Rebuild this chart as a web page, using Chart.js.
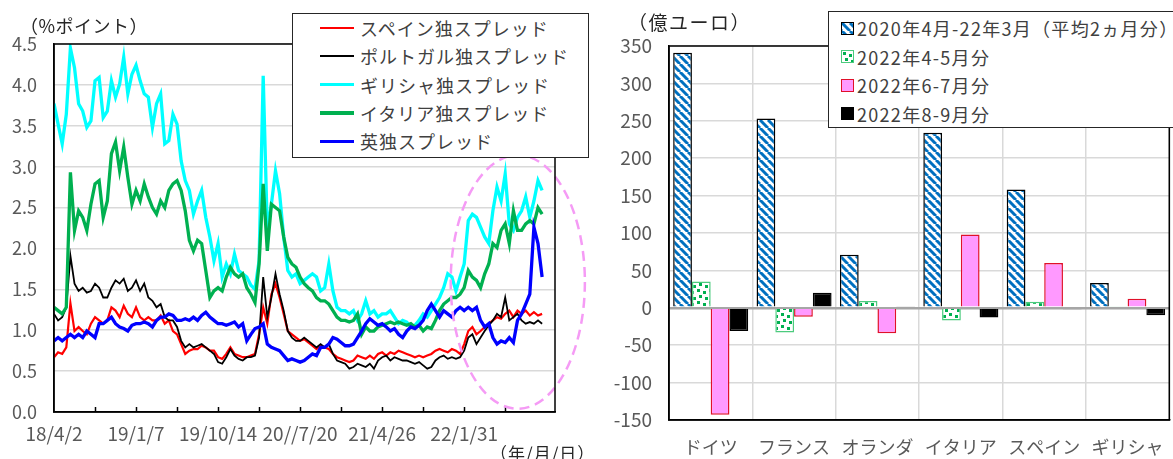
<!DOCTYPE html>
<html lang="ja">
<head>
<meta charset="utf-8">
<script src="https://cdn.jsdelivr.net/npm/chart.js@4.4.0/dist/chart.umd.min.js"></script>
<style>
  html, body { margin: 0; padding: 0; background: #fff; overflow: hidden; }
  body { width: 1173px; height: 459px; position: relative; font-family: "Noto Sans CJK JP", sans-serif; }
  .abs { position: absolute; }
  #leftWrap { left: 0; top: 0; width: 600px; height: 459px; }
  #rightWrap { left: 600px; top: 0; width: 580px; height: 459px; }
  .note { color: #262626; white-space: nowrap; line-height: 20px; }
  .legend { background: #fff; box-sizing: border-box; }
  .legend .row { position: absolute; display: flex; align-items: center; white-space: nowrap;
                 font-size: 18px; color: #404040; height: 24px; }
</style>
</head>
<body>
<div id="leftWrap" class="abs"><canvas id="spreadChart" width="600" height="459"></canvas></div>
<div id="rightWrap" class="abs"><canvas id="flowChart" width="580" height="459"></canvas></div>

<div class="abs note" style="left:20px; top:15px; font-size:18px; letter-spacing:0.5px;">（%ポイント）</div>
<div class="abs note" style="left:490px; top:443px; font-size:17px; letter-spacing:1px;">（年/月/日）</div>
<div class="abs note" style="left:628px; top:12px; font-size:19px; letter-spacing:1.5px;">（億ユーロ）</div>

<div id="spreadLegend" class="abs legend" style="left:292px; top:13px; width:297px; height:145px; border:1.5px solid #262626;"></div>
<div id="flowLegend" class="abs legend" style="left:828px; top:11px; width:360px; height:117px; border:1.5px solid #262626;"></div>

<script>
// ---- left chart: spreads vs Germany, one reading every 2 weeks from 2018/4/2 ----
const dayStep = 14;
const axisEndDay = 1710;
const tickStepDays = 140;
const xTickLabels = ['18/4/2', '', '19/1/7', '', '19/10/14', '', '20//7/20', '', '21/4/26', '', '22/1/31', '', ''];

const spainSpread = [
  0.67,0.73,0.71,0.79,1.33,0.99,1.04,0.99,0.95,1.08,
  1.16,1.12,1.08,1.12,1.28,1.24,1.16,1.30,1.20,1.16,
  1.28,1.16,1.12,1.16,1.12,1.12,1.18,1.08,1.12,0.99,
  0.95,0.83,0.71,0.75,0.77,0.77,0.81,0.79,0.75,0.75,
  0.67,0.65,0.71,0.79,0.71,0.69,0.67,0.67,0.69,0.71,
  0.95,1.28,1.08,1.44,1.57,1.40,1.20,0.99,0.95,0.91,
  0.87,0.89,0.85,0.81,0.77,0.81,0.79,0.77,0.71,0.67,
  0.65,0.63,0.61,0.63,0.69,0.67,0.65,0.69,0.65,0.71,
  0.73,0.69,0.73,0.71,0.75,0.73,0.71,0.69,0.67,0.69,
  0.67,0.69,0.71,0.75,0.77,0.75,0.73,0.77,0.75,0.71,
  0.83,0.99,1.04,0.95,0.99,1.04,1.08,1.12,1.16,1.14,
  1.20,1.24,1.16,1.24,1.20,1.24,1.18,1.22,1.18,1.20
];
const portugalSpread = [
  1.20,1.12,1.16,1.28,1.91,1.57,1.48,1.52,1.46,1.48,
  1.57,1.52,1.40,1.40,1.52,1.61,1.57,1.63,1.48,1.52,
  1.61,1.48,1.57,1.40,1.36,1.28,1.32,1.16,1.12,1.12,
  1.04,0.87,0.79,0.83,0.79,0.81,0.83,0.79,0.75,0.71,
  0.61,0.59,0.67,0.77,0.69,0.65,0.63,0.67,0.67,0.69,
  0.91,1.65,1.16,1.40,1.69,1.44,1.24,0.99,0.91,0.87,
  0.87,0.91,0.87,0.83,0.79,0.83,0.79,0.83,0.71,0.63,
  0.61,0.59,0.53,0.55,0.59,0.57,0.55,0.59,0.53,0.63,
  0.67,0.69,0.63,0.67,0.65,0.63,0.63,0.61,0.59,0.61,
  0.57,0.53,0.55,0.63,0.67,0.69,0.65,0.67,0.65,0.67,
  0.75,0.91,0.95,0.83,0.91,0.99,1.06,1.12,1.20,1.16,
  1.40,1.12,1.16,1.20,1.12,1.08,1.10,1.08,1.12,1.08
];
const greeceSpread = [
  3.77,3.52,3.28,3.64,4.45,4.21,3.77,3.68,3.48,3.56,
  4.05,4.09,3.60,3.68,4.05,3.85,4.01,4.34,3.89,4.13,
  4.24,4.05,3.89,3.85,3.48,3.77,3.89,3.28,3.32,3.64,
  3.52,3.07,2.83,2.71,2.42,2.58,2.71,2.38,2.14,1.85,
  2.06,1.65,1.81,1.69,1.93,1.73,1.69,1.65,1.55,1.50,
  1.85,4.11,2.22,2.54,2.95,2.67,2.14,1.73,1.65,1.69,
  1.57,1.61,1.65,1.69,1.65,1.48,1.52,1.81,1.48,1.28,
  1.24,1.24,1.20,1.24,1.12,1.20,1.36,1.20,1.24,1.16,
  1.20,1.20,1.24,1.16,1.08,1.12,1.10,1.04,1.06,1.12,
  1.20,1.16,1.24,1.32,1.40,1.52,1.69,1.65,1.48,1.65,
  1.81,2.34,2.42,2.38,2.26,2.14,2.06,2.46,2.75,2.58,
  2.91,2.30,2.22,2.38,2.46,2.63,2.38,2.58,2.83,2.71
];
const italySpread = [
  1.28,1.24,1.20,1.28,2.93,2.22,2.46,2.38,2.22,2.54,
  2.79,2.83,2.38,2.58,3.16,3.30,2.95,3.24,2.87,2.54,
  2.71,2.58,2.79,2.63,2.50,2.42,2.58,2.50,2.71,2.79,
  2.83,2.71,2.46,2.10,1.97,2.10,2.06,1.73,1.40,1.48,
  1.52,1.48,1.65,1.77,1.69,1.65,1.69,1.52,1.44,1.34,
  1.81,2.79,1.97,2.54,2.50,2.46,2.14,1.89,1.81,1.77,
  1.65,1.57,1.52,1.48,1.40,1.36,1.36,1.32,1.24,1.16,
  1.12,1.12,1.10,1.12,1.20,0.95,1.04,0.99,0.99,1.04,
  1.06,1.08,1.10,1.08,1.10,1.08,1.06,1.08,1.04,1.06,
  0.99,1.04,1.02,1.12,1.24,1.32,1.36,1.40,1.40,1.44,
  1.52,1.73,1.65,1.61,1.52,1.69,1.81,2.06,2.01,2.22,
  2.30,2.06,2.46,2.22,2.22,2.30,2.34,2.30,2.50,2.42
];
const ukSpread = [
  0.87,0.91,0.87,0.91,0.95,0.91,0.95,0.91,0.99,0.95,
  0.91,1.08,1.08,1.12,1.16,1.08,1.04,1.02,0.99,1.06,
  1.08,1.08,1.10,1.08,1.04,1.12,1.16,1.16,1.20,1.18,
  1.12,1.12,1.14,1.12,1.16,1.12,1.18,1.22,1.16,1.12,
  1.08,1.08,1.06,1.08,1.10,1.04,1.08,0.87,0.95,1.02,
  1.04,1.08,0.83,0.79,0.77,0.75,0.69,0.63,0.65,0.63,
  0.61,0.63,0.67,0.71,0.69,0.79,0.79,0.83,0.91,0.89,
  0.85,0.81,0.81,0.83,0.91,0.99,1.08,1.14,1.10,1.06,
  1.08,1.04,0.99,1.02,0.95,0.91,0.99,1.04,1.02,1.06,
  1.12,1.24,1.32,1.24,1.16,1.24,1.20,1.16,1.24,1.28,
  1.24,1.28,1.24,1.28,1.12,1.04,1.08,0.91,0.83,0.87,
  0.85,0.91,0.85,1.12,1.20,1.32,1.44,2.26,2.06,1.65
];

// dashed highlight ring, in data units (days, %pt)
const highlight = { day: 1583, value: 1.59, dayRadius: 229, valueRadius: 1.55 };

const spreadSeries = [
  { label: 'スペイン独スプレッド',   values: spainSpread,    color: '#FF0000', width: 2.2, order: 4 },
  { label: 'ポルトガル独スプレッド', values: portugalSpread, color: '#000000', width: 1.8, order: 3 },
  { label: 'ギリシャ独スプレッド',   values: greeceSpread,   color: '#00FFFF', width: 3.3, order: 2 },
  { label: 'イタリア独スプレッド',   values: italySpread,    color: '#00B050', width: 3.3, order: 1 },
  { label: '英独スプレッド',         values: ukSpread,       color: '#0000FF', width: 3.3, order: 0 }
];

// ---- right chart: purchases by country (億ユーロ) ----
const countries = ['ドイツ', 'フランス', 'オランダ', 'イタリア', 'スペイン', 'ギリシャ'];
const avg2020to22 = [341, 253, 71, 234, 158, 33];
const aprMay2022  = [35, -33, 9, -17, 8, 1.5];
const junJul2022  = [-143, -12, -34, 98, 60, 12];
const augSep2022  = [-31, 20, 1.5, -13, -2, -10];

Chart.defaults.font.family = '"Noto Sans CJK JP", "Noto Sans", sans-serif';
Chart.defaults.color = '#595959';

function stripeTile() {
  const c = document.createElement('canvas');
  c.width = 8; c.height = 8;
  const g = c.getContext('2d');
  g.fillStyle = '#fff';
  g.fillRect(0, 0, 8, 8);
  g.strokeStyle = '#0070C0';
  g.lineWidth = 3;
  for (const o of [-8, 0, 8]) {
    g.beginPath(); g.moveTo(o, 0); g.lineTo(o + 8, 8); g.stroke();
  }
  return c;
}

function dotTile() {
  const c = document.createElement('canvas');
  c.width = 12; c.height = 12;
  const g = c.getContext('2d');
  g.fillStyle = '#fff';
  g.fillRect(0, 0, 12, 12);
  g.fillStyle = '#00B050';
  [[1, 1], [7, 3], [3, 7], [9, 9]].forEach(([x, y]) => g.fillRect(x, y, 3, 3));
  return c;
}

const stripes = stripeTile();
const dots = dotTile();
const ctxProbe = document.createElement('canvas').getContext('2d');
const stripePattern = ctxProbe.createPattern(stripes, 'repeat');
const dotPattern = ctxProbe.createPattern(dots, 'repeat');

const flowSeries = [
  { label: '2020年4月-22年3月（平均2ヵ月分）', values: avg2020to22, fill: stripePattern, border: '#000000', swatch: 'url(' + stripes.toDataURL() + ')' },
  { label: '2022年4-5月分', values: aprMay2022, fill: dotPattern, border: '#4CCB7E', swatch: 'url(' + dots.toDataURL() + ')' },
  { label: '2022年6-7月分', values: junJul2022, fill: '#FF99FF', border: '#E0102A', swatch: '#FF99FF' },
  { label: '2022年8-9月分', values: augSep2022, fill: '#000000', border: '#000000', swatch: '#000000' }
];

// full black frame around the plot area
const framePlugin = {
  id: 'frame',
  afterDraw(chart) {
    const { ctx, chartArea: a } = chart;
    ctx.save();
    ctx.strokeStyle = '#000';
    ctx.lineWidth = 1.5;
    ctx.strokeRect(a.left, a.top, a.right - a.left, a.bottom - a.top);
    ctx.restore();
  }
};

// tick marks pointing into the plot, plus the dashed ring
const spreadExtras = {
  id: 'spreadExtras',
  afterDraw(chart) {
    const { ctx, chartArea: a, scales: { x, y } } = chart;
    ctx.save();
    ctx.strokeStyle = '#000';
    ctx.lineWidth = 1.5;
    x.ticks.forEach(t => {
      const px = Math.round(x.getPixelForValue(t.value)) + 0.5;
      if (px <= a.left + 1) return;
      ctx.beginPath(); ctx.moveTo(px, a.bottom); ctx.lineTo(px, a.bottom - 5); ctx.stroke();
    });
    const cx = x.getPixelForValue(highlight.day);
    const cy = y.getPixelForValue(highlight.value);
    const rx = x.getPixelForValue(highlight.day + highlight.dayRadius) - cx;
    const ry = cy - y.getPixelForValue(highlight.value + highlight.valueRadius);
    ctx.strokeStyle = '#F59BF5';
    ctx.lineWidth = 2.5;
    ctx.setLineDash([10, 6]);
    ctx.beginPath();
    ctx.ellipse(cx, cy, rx, ry, 0, 0, Math.PI * 2);
    ctx.stroke();
    ctx.restore();
  }
};

new Chart(document.getElementById('spreadChart'), {
  type: 'line',
  data: {
    datasets: spreadSeries.map(s => ({
      label: s.label,
      data: s.values.map((v, i) => ({ x: i * dayStep, y: v })),
      borderColor: s.color,
      borderWidth: s.width,
      pointRadius: 0,
      tension: 0,
      order: s.order
    }))
  },
  options: {
    responsive: false,
    animation: false,
    devicePixelRatio: 1,
    events: [],
    layout: { padding: { top: 44, right: 45, left: 0, bottom: 0 } },
    plugins: { legend: { display: false }, tooltip: { enabled: false } },
    scales: {
      x: {
        type: 'linear',
        min: 0,
        max: axisEndDay,
        afterBuildTicks: s => { s.ticks = s.ticks.filter(t => t.value % tickStepDays === 0); },
        afterFit: s => { s.height = 47; },
        ticks: {
          stepSize: tickStepDays,
          autoSkip: false,
          maxRotation: 0,
          padding: 2,
          font: { size: 19 },
          callback: (v, i) => xTickLabels[i] ?? ''
        },
        grid: { display: false },
        border: { display: true, color: '#000', width: 1.5 }
      },
      y: {
        min: 0,
        max: 4.5,
        afterFit: s => { s.width = 54; },
        ticks: { stepSize: 0.5, padding: 17, font: { size: 18 }, callback: v => v.toFixed(1) },
        grid: { color: '#D9D9D9', lineWidth: 1.5, drawTicks: false },
        border: { display: true, color: '#000', width: 1.5 }
      }
    }
  },
  plugins: [spreadExtras, framePlugin]
});

new Chart(document.getElementById('flowChart'), {
  type: 'bar',
  data: {
    labels: countries,
    datasets: flowSeries.map(s => ({
      label: s.label,
      data: s.values,
      backgroundColor: s.fill,
      borderColor: s.border,
      borderWidth: 1.5,
      barPercentage: 1,
      categoryPercentage: 0.9
    }))
  },
  options: {
    responsive: false,
    animation: false,
    devicePixelRatio: 1,
    events: [],
    layout: { padding: { top: 46, right: 5, left: 0, bottom: 0 } },
    plugins: { legend: { display: false }, tooltip: { enabled: false } },
    scales: {
      x: {
        afterFit: s => { s.height = 39; },
        ticks: { padding: 16, font: { size: 18 }, autoSkip: false, maxRotation: 0 },
        grid: { color: '#D9D9D9', lineWidth: 1.5, drawTicks: false },
        border: { display: true, color: '#000', width: 1.5 }
      },
      y: {
        min: -150,
        max: 350,
        afterFit: s => { s.width = 69; },
        ticks: { stepSize: 50, padding: 17, font: { size: 19 } },
        grid: {
          color: c => (c.tick && c.tick.value === 0 ? '#A6A6A6' : '#D9D9D9'),
          lineWidth: c => (c.tick && c.tick.value === 0 ? 2.5 : 1.5),
          drawTicks: false
        },
        border: { display: true, color: '#000', width: 1.5 }
      }
    }
  },
  plugins: [framePlugin]
});

// ---- html legends ----
const spreadLegend = document.getElementById('spreadLegend');
spreadSeries.forEach((s, i) => {
  const row = document.createElement('div');
  row.className = 'row';
  row.style.left = '27px';
  row.style.top = (2 + i * 28.3) + 'px';
  row.style.letterSpacing = '1px';
  const mark = document.createElement('span');
  mark.style.cssText = `display:inline-block;width:34px;height:${Math.max(2, s.width)}px;background:${s.color};margin-right:6px;`;
  const text = document.createElement('span');
  text.textContent = s.label;
  row.appendChild(mark);
  row.appendChild(text);
  spreadLegend.appendChild(row);
});

const flowLegend = document.getElementById('flowLegend');
flowSeries.forEach((s, i) => {
  const row = document.createElement('div');
  row.className = 'row';
  row.style.left = '12px';
  row.style.top = (4 + i * 28.5) + 'px';
  row.style.letterSpacing = '1.3px';
  const mark = document.createElement('span');
  mark.style.cssText = `display:inline-block;box-sizing:border-box;width:13px;height:13px;border:1.5px solid ${s.border};background:${s.swatch};margin-right:3px;`;
  const text = document.createElement('span');
  text.textContent = s.label;
  row.appendChild(mark);
  row.appendChild(text);
  flowLegend.appendChild(row);
});
</script>
</body>
</html>
